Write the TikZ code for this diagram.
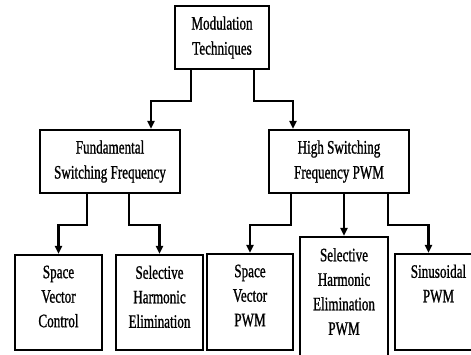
\documentclass[tikz,border=0pt]{standalone}
\usepackage{fontspec}
\setmainfont{Liberation Serif}[FakeStretch=0.69,FakeBold=1]
\usetikzlibrary{arrows.meta,positioning}
\begin{document}
\begin{tikzpicture}[x=1pt,y=-1pt,
  box/.style={draw,line width=2.2pt,rectangle,inner sep=0pt,align=center,
    font={\fontsize{19pt}{25pt}\selectfont}},
  txt/.style={inner sep=0pt,align=center,anchor=north,
    font={\fontsize{19pt}{24.5pt}\selectfont}},
  arr/.style={line width=2.2pt,-{Triangle[length=8pt,width=7pt]}}]
\useasboundingbox (0,0) rectangle (471,354);
\clip (0,0) rectangle (471,354);
% boxes
\node[box,minimum width=94pt,minimum height=63pt] (top) at (222,37.5) {Modulation\\Techniques};
\node[box,minimum width=140pt,minimum height=63pt] (fund) at (110,161.5) {Fundamental\\Switching Frequency};
\node[box,minimum width=140pt,minimum height=63pt] (high) at (339,161.5) {High Switching\\Frequency PWM};
\node[box,minimum width=87pt,minimum height=95pt] (b1) at (58.5,302.5) {};
\node[box,minimum width=87pt,minimum height=95pt] (b2) at (159.5,302.5) {};
\node[box,minimum width=86pt,minimum height=96pt] (b3) at (250,302) {};
\node[box,minimum width=88pt,minimum height=130pt] (b4) at (344,302) {};
\node[box,minimum width=87pt,minimum height=96pt] (b5) at (438.5,302) {};
% texts
\node[txt,below=11.5pt of b1.north] (t1) {Space\\Vector\\Control};
\node[txt,below=11.5pt of b2.north] (t2) {Selective\\Harmonic\\Elimination};
\node[txt,below=11.5pt of b3.north] (t3) {Space\\Vector\\PWM};
\node[txt,below=12pt of b4.north] (t4) {Selective\\Harmonic\\Elimination\\PWM};
\node[txt,below=11.5pt of b5.north] (t5) {Sinusoidal\\PWM};
% connectors
\draw[arr] ([xshift=-31pt]top.south) -- ++(0,31) -| ([xshift=41pt]fund.north);
\draw[arr] ([xshift=32pt]top.south) -- ++(0,31) -| ([xshift=-46pt]high.north);
\draw[arr] ([xshift=-23pt]fund.south) -- ++(0,31) -| (b1.north);
\draw[arr] ([xshift=19pt]fund.south) -- ++(0,31) -| (b2.north);
\draw[arr] ([xshift=-48pt]high.south) -- ++(0,31) -| (b3.north);
\draw[arr] (high.south -| b4.north) -- (b4.north);
\draw[arr] ([xshift=49pt]high.south) -- ++(0,31) -| ([xshift=-10pt]b5.north);
\end{tikzpicture}
\end{document}
